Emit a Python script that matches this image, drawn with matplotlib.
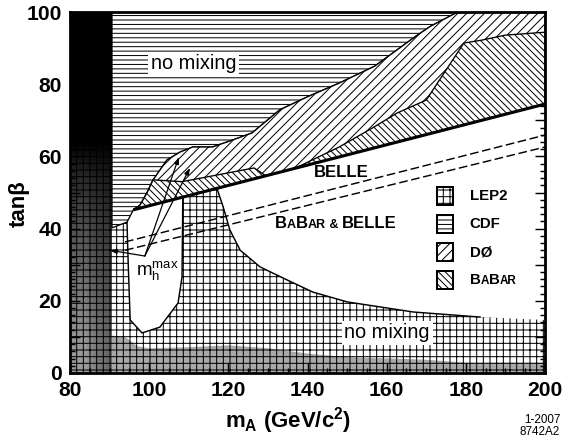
import numpy as np
import matplotlib
matplotlib.use("Agg")
import matplotlib.pyplot as plt
from matplotlib.patches import Polygon, Rectangle
from matplotlib.offsetbox import (TextArea, HPacker, VPacker, DrawingArea,
                                  AnchoredOffsetbox, AnnotationBbox)
from matplotlib.ticker import MultipleLocator, FuncFormatter

FONT = "Liberation Sans"
plt.rcParams["font.family"] = [FONT, "DejaVu Sans"]
plt.rcParams["mathtext.fontset"] = "custom"
plt.rcParams["mathtext.rm"] = FONT
plt.rcParams["mathtext.it"] = FONT + ":italic"
plt.rcParams["mathtext.bf"] = FONT + ":bold"
plt.rcParams["hatch.linewidth"] = 0.9

# === data (m_A in GeV/c^2, tan beta) ===
# dark "theory excluded" column at low m_A
column_x = [80.0, 90.6]

# grey band at the bottom
band_x = [80, 90.6, 94, 97, 100, 110, 120, 130, 140, 150, 160, 170, 180, 200]
band_y = [10.5, 10.5, 10, 7.5, 7, 7.3, 7.8, 7, 5.5, 4.5, 4.2, 3.8, 3.0, 3.0]

# LEP2 excluded region
lep_x = [80, 80, 90.6, 90.6, 94.4, 108.5, 117.1, 118.7, 120.4, 123.0, 128.0,
         134.8, 141.4, 150.0, 166.7, 183.6, 200.0, 200.0]
lep_y = [0, 64, 64, 40.2, 41.8, 48.5, 51.2, 46.0, 39.6, 34.0, 29.4,
         25.8, 22.4, 19.7, 16.9, 15.5, 14.7, 0]

# allowed hole inside LEP2 (m_h max scenario)
hole_x = [94.4, 94.7, 95.2, 98.2, 102.7, 107.3, 108.3, 108.5, 96.0]
hole_y = [41.8, 30.5, 14.7, 11.1, 12.7, 19.4, 26.6, 48.5, 45.2]

# CDF exclusion boundary
cdf_x = [90.6, 94.4, 96.0, 97.7, 99.5, 101.0, 104.5, 107.8, 111.0, 116.0,
         121.0, 126.0, 133.0, 140.0, 148.0, 157.0, 167.0, 171.0, 178.0]
cdf_y = [40.2, 41.8, 45.2, 46.5, 50.0, 53.5, 59.0, 61.2, 62.6, 62.6,
         64.5, 66.5, 72.9, 76.5, 80.3, 85.0, 93.0, 96.0, 100.0]

# BaBar exclusion (two pieces above the BELLE line)
babar_left_x = [96.0, 97.7, 99.5, 101.0, 108.3, 126.5, 129.5]
babar_left_y = [45.2, 46.5, 50.0, 53.5, 53.0, 56.8, 54.6]
babar_right_x = [137.0, 148.0, 156.6, 162.6, 170.0, 179.5, 184.0, 190.0, 200.0, 200.0]
babar_right_y = [56.8, 62.6, 68.0, 72.0, 75.6, 91.4, 92.2, 93.6, 94.4, 74.5]

# BELLE limit (thick line) and BaBar & BELLE dashed projections
belle_x = [96.0, 200.0]
belle_y = [45.2, 74.5]
dash_x = [93.9, 200.0]
dash_hi_y = [36.3, 65.9]
dash_lo_y = [34.0, 62.6]

# m_h^max arrows
mh_from = (98.9, 32.4)
mh_to = [(107.5, 59.8), (110.3, 56.8), (90.1, 34.0)]

DPI = 80
fig = plt.figure(figsize=(564 / DPI, 441 / DPI), dpi=DPI)
ax = fig.add_axes([70 / 564, 68 / 441, 475 / 564, 361 / 441])
ax.set_xlim(80, 200)
ax.set_ylim(0, 100)

# grey band
ax.fill_between(band_x, 0, band_y, color="#a9a9a9", lw=0, zorder=1)

# dark column with vertical gradient
yy = np.linspace(0, 100, 400)
shade = np.interp(yy, [0, 10, 25, 40, 55, 64], [0.62, 0.58, 0.45, 0.32, 0.15, 0.0])
grad = np.column_stack([shade, shade, shade * 0.8, shade * 0.7])
ax.imshow(grad, extent=[column_x[0], column_x[1], 0, 100], origin="lower",
          cmap="gray", vmin=0, vmax=1, aspect="auto", interpolation="bilinear",
          zorder=1.5)

# LEP2 grid
ax.add_patch(Polygon(np.column_stack([lep_x, lep_y]), closed=True,
                     facecolor="none", edgecolor="black", lw=0, hatch="++", zorder=2))
ax.plot(lep_x[6:16], lep_y[6:16], color="black", lw=1.3, zorder=2.5)

# white hole
ax.add_patch(Polygon(np.column_stack([hole_x, hole_y]), closed=True,
                     facecolor="white", edgecolor="none", lw=0, zorder=3))
ax.plot(hole_x[:8], hole_y[:8], color="black", lw=1.3, zorder=3.2)

# dashed lines
for dy in (dash_hi_y, dash_lo_y):
    ax.plot(dash_x, dy, color="black", lw=1.3, linestyle=(0, (6, 2.5)), zorder=3.5)

# CDF
cdf_pts = list(zip(cdf_x, cdf_y)) + [(column_x[1], 100)]
ax.add_patch(Polygon(cdf_pts, closed=True, facecolor="white", edgecolor="black",
                     lw=1.2, hatch="---", zorder=4))

# D0
d0_pts = list(zip(cdf_x[2:], cdf_y[2:])) + [(200, 100), (belle_x[1], belle_y[1])]
ax.add_patch(Polygon(d0_pts, closed=True, facecolor="white", edgecolor="black",
                     lw=1.2, hatch="///", zorder=4.2))

# BaBar
for bx, by in ((babar_left_x, babar_left_y), (babar_right_x, babar_right_y)):
    ax.add_patch(Polygon(np.column_stack([bx, by]), closed=True, facecolor="white",
                         edgecolor="black", lw=1.2, hatch="\\\\\\\\", zorder=5))

# BELLE thick line
ax.plot(belle_x, belle_y, color="black", lw=2.8, solid_capstyle="butt", zorder=6)

# m_h^max arrows and label
for tgt in mh_to:
    ax.annotate("", xy=tgt, xytext=mh_from, zorder=7,
                arrowprops=dict(arrowstyle="-|>,head_length=0.5,head_width=0.18",
                                color="black", lw=1.1, shrinkA=0, shrinkB=0))
ax.text(102.0, 31.5, r"m$_\mathregular{h}^\mathregular{max}$", fontsize=17,
        ha="center", va="top", zorder=8)

# region labels
box = dict(facecolor="white", edgecolor="none", pad=2.5)
ax.text(111.3, 85.6, "no mixing", fontsize=18, ha="center", va="center",
        bbox=box, zorder=8)
ax.text(160.1, 11.1, "no mixing", fontsize=18, ha="center", va="center",
        bbox=box, zorder=8)
ax.text(148.5, 55.6, "BELLE", fontsize=15, fontweight="bold", ha="center",
        va="center", zorder=8)


def smallcaps(parts, big, small):
    kids = []
    for txt, is_big in parts:
        kids.append(TextArea(txt, textprops=dict(fontsize=big if is_big else small,
                                                 fontweight="bold", family=FONT)))
    return HPacker(children=kids, align="baseline", pad=0, sep=0)


babar_belle = smallcaps([("B", True), ("A", False), ("B", True), ("AR", False),
                         (" & ", False), ("BELLE", True)], 15, 11.3)
ax.add_artist(AnnotationBbox(babar_belle, (147.2, 41.5), frameon=False, pad=0,
                             box_alignment=(0.5, 0.5), zorder=8))

# legend
legend_items = [("++", [("LEP2", True)]),
                ("---", [("CDF", True)]),
                ("///", [("DØ", True)]),
                ("\\\\\\\\", [("B", True), ("A", False), ("B", True), ("AR", False)])]
rows = []
for hatch, label in legend_items:
    da = DrawingArea(14.4, 16.2, 0, 0)
    da.add_artist(Rectangle((0, 0), 14.4, 16.2, facecolor="white",
                            edgecolor="black", lw=1.8, hatch=hatch))
    rows.append(HPacker(children=[da, smallcaps(label, 13.5, 10.5)],
                        align="center", pad=0, sep=15))
leg = AnchoredOffsetbox(loc="upper left", child=VPacker(children=rows, align="left",
                                                         pad=0, sep=9),
                        bbox_to_anchor=(0.773, 0.515), bbox_transform=ax.transAxes,
                        frameon=False, pad=0, borderpad=0)
leg.set_zorder(9)
ax.add_artist(leg)

# axes styling
for sp in ax.spines.values():
    sp.set_linewidth(2.5)
    sp.set_zorder(10)
ax.xaxis.set_major_locator(MultipleLocator(20))
ax.xaxis.set_minor_locator(MultipleLocator(5))
ax.yaxis.set_major_locator(MultipleLocator(10))
ax.yaxis.set_minor_locator(MultipleLocator(2))
ax.yaxis.set_major_formatter(FuncFormatter(lambda v, p: f"{v:.0f}" if v % 20 == 0 else ""))
ax.tick_params(which="both", direction="in", top=True, right=True, width=1.3,
               zorder=10)
ax.tick_params(which="major", length=9, labelsize=19, pad=7)
ax.tick_params(which="minor", length=4.5)
for lab in ax.get_xticklabels() + ax.get_yticklabels():
    lab.set_fontweight("bold")

ax.set_xlabel(r"$\mathbf{m_A}$ (GeV/c$^\mathbf{2}$)", fontsize=20, fontweight="bold")
ax.xaxis.set_label_coords(0.46, -0.088)
ax.set_ylabel("tanβ", fontsize=20, fontweight="bold")
ax.yaxis.set_label_coords(-0.085, 0.468)

fig.text(0.993, 0.035, "1-2007\n8742A2", fontsize=10.5, ha="right", va="center",
         linespacing=1.0)

fig.savefig("out.png", dpi=DPI)
